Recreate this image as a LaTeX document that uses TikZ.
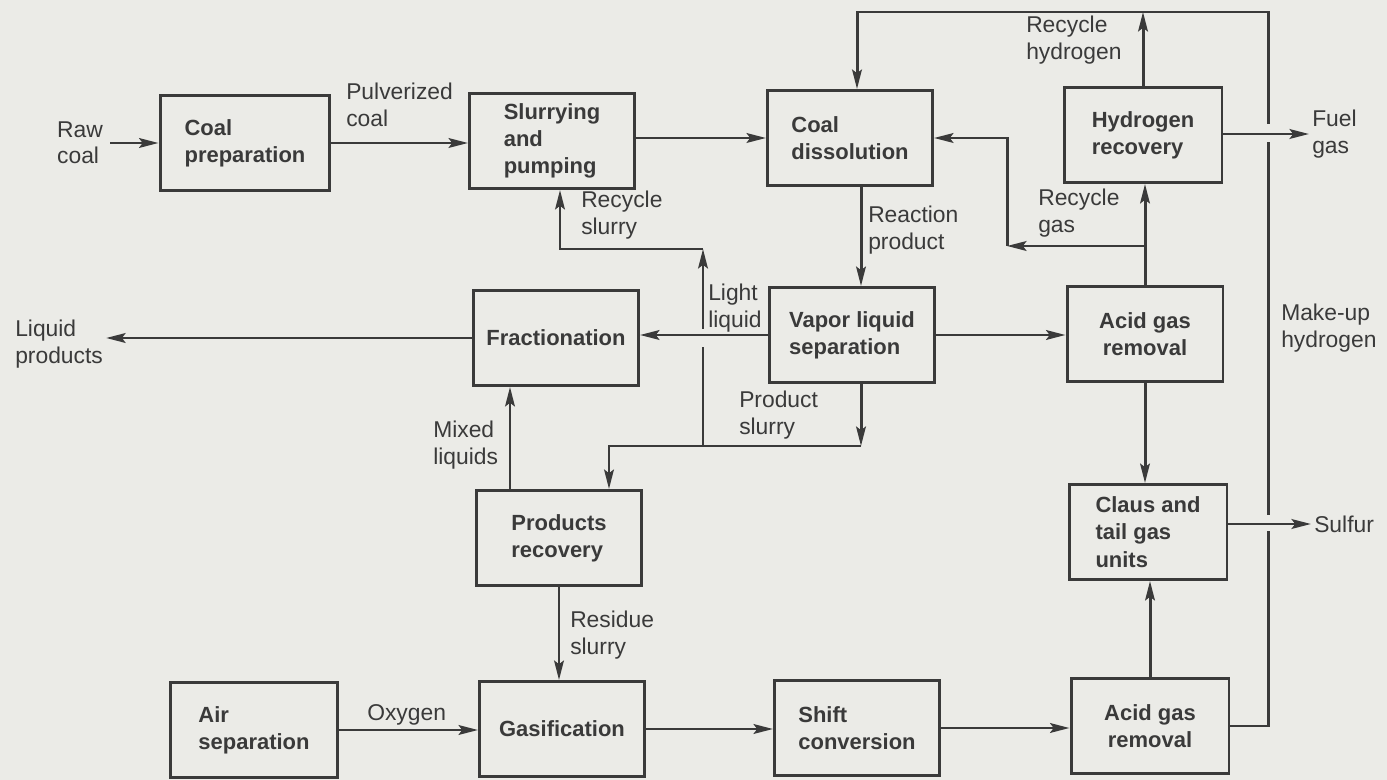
\documentclass[tikz,border=0pt]{standalone}
\usepackage{fontspec}
\setmainfont{Liberation Sans}
\usetikzlibrary{arrows.meta,calc}
\definecolor{ink}{HTML}{3A3A3A}
\definecolor{paper}{HTML}{EBEBE7}
\tikzset{flow/.style={-{Stealth[length=11pt,width=5.5pt,inset=2pt]}}}
\tikzset{unit/.style={draw, minimum width=3.3cm, minimum height=1.9cm, font=\fontsize{12.5}{15.5}\selectfont\bfseries}}
\tikzset{tag/.style={anchor=west, inner sep=1pt}}

\begin{document}
\begin{tikzpicture}[x=0.02cm, y=-0.02cm, line width=1.7pt, color=ink]
	% Default action for each node
	\tikzstyle{every node}=[align=left, font=\fontsize{13}{15}\selectfont];

	\fill[paper] (0,0) rectangle (1387,780);
	\useasboundingbox (0,0) rectangle (1387,780);

	% Units
	\node[unit, minimum width=3.4cm] (coalprep) at (245,143) {Coal\\preparation};
	\node[unit] (slurry) at (552,141) {Slurrying\\and\\pumping};
	\node[unit] (dissol) at (850,138) {Coal\\dissolution};
	\node[unit, minimum width=3.16cm] (h2rec) at (1143,135) {Hydrogen\\recovery};
	\node[unit] (frac) at (556,338) {Fractionation};
	\node[unit] (vapor) at (852,335) {Vapor liquid\\separation};
	\node[unit, minimum width=3.12cm, align=center] (acidtop) at (1145,334) {Acid gas\\removal};
	\node[unit, minimum width=3.16cm] (claus) at (1148,532) {Claus and\\tail gas\\units};
	\node[unit] (prodrec) at (559,538) {Products\\recovery};
	\node[unit, minimum width=3.36cm] (airsep) at (254,730) {Air\\separation};
	\node[unit] (gasif) at (562,729) {Gasification};
	\node[unit] (shift) at (857,728) {Shift\\conversion};
	\node[unit, minimum width=3.16cm, align=center] (acidbot) at (1150,726) {Acid gas\\removal};

	% Stream labels
	\node (rawcoal) at (80,143) {Raw\\coal};
	\node[tag] (pulv) at (343,105) {Pulverized\\coal};
	\node[tag] (recslurry) at (578,215) {Recycle\\slurry};
	\node[tag] (reaction) at (865,230) {Reaction\\product};
	\node[tag] (rech2) at (1023,40) {Recycle\\hydrogen};
	\node[tag] (fuelgas) at (1309,134) {Fuel\\gas};
	\node[tag] (recgas) at (1035,213) {Recycle\\gas};
	\node[tag] (light) at (705,308) {Light\\liquid};
	\node[tag] (liqprod) at (12,344) {Liquid\\products};
	\node[tag] (makeup) at (1278,328) {Make-up\\hydrogen};
	\node[tag] (prodslurry) at (736,415) {Product\\slurry};
	\node[tag] (mixed) at (430,445) {Mixed\\liquids};
	\node[tag] (sulfur) at (1311,524) {Sulfur};
	\node[tag] (residue) at (567,635) {Residue\\slurry};
	\node[tag, anchor=south west] (oxygen) at (364,728) {Oxygen};

	% Bends and gaps
	\coordinate (mktop) at (1268,12);	\coordinate (mkfuelt) at (1268,124);	\coordinate (mkfuelb) at (1268,142);
	\coordinate (mksult) at (1268,515);	\coordinate (mksulb) at (1268,531);
	\coordinate (rgjoin) at (1145,246);	\coordinate (rgbend) at (1007,246);
	\coordinate (rsbend) at (703,249);	\coordinate (llgapt) at (703,329);	\coordinate (llgapb) at (703,347);
	\coordinate (llfoot) at (703,446);	\coordinate (psbend) at (861,446);

	% Horizontals
	\draw[flow] (rawcoal) -- (coalprep);
	\draw[flow] (coalprep.east) -- (coalprep.east -| slurry.west);
	\draw[flow] (slurry.east |- dissol.west) -- (dissol.west);
	\draw[flow] (h2rec.east |- fuelgas) -- (fuelgas.west);
	\draw[flow] (vapor.west) -- (vapor.west -| frac.east);
	\draw[flow] (frac.west) -- (frac.west -| liqprod.east);
	\draw[flow] (vapor.east) -- (vapor.east -| acidtop.west);
	\draw[flow] (claus.east |- sulfur) -- (sulfur.west);
	\draw[flow] (airsep.east) -- (airsep.east -| gasif.west);
	\draw[flow] (gasif.east) -- (gasif.east -| shift.west);
	\draw[flow] (shift.east) -- (shift.east -| acidbot.west);

	% Verticals
	\draw[flow] ($(dissol.south)+(11,0)$) -- ($(vapor.north)+(9,0)$);
	\draw[flow] (acidtop.south) -- (acidtop.south |- claus.north);
	\draw[flow] (acidbot.north) -- (acidbot.north |- claus.south);
	\draw[flow] ($(prodrec.north)+(-49,0)$) -- ($(frac.south)+(-46,0)$);
	\draw[flow] (prodrec.south) -- (prodrec.south |- gasif.north);

	% Hydrogen loop
	\draw (acidbot.east) -| (mksulb);
	\draw (mksult) -- (mkfuelb);
	\draw[flow] (mkfuelt) -- (mktop) -| ($(dissol.north)+(7,0)$);
	\draw[flow] (h2rec.north) -- (h2rec.north |- mktop);

	% Recycle gas
	\draw[flow] (acidtop.north) -- (acidtop.north |- h2rec.south);
	\draw[flow] (rgjoin) -- (rgbend);
	\draw[flow] (rgbend) |- (dissol.east);

	% Slurry streams
	\draw[flow] ($(vapor.south)+(9,0)$) -- (psbend);
	\draw[flow] (psbend) -| ($(prodrec.north)+(50,0)$);
	\draw (llfoot) -- (llgapb);
	\draw[flow] (llgapt) -- (rsbend);
	\draw[flow] (rsbend) -| ($(slurry.south)+(8,0)$);
\end{tikzpicture}
\end{document}
